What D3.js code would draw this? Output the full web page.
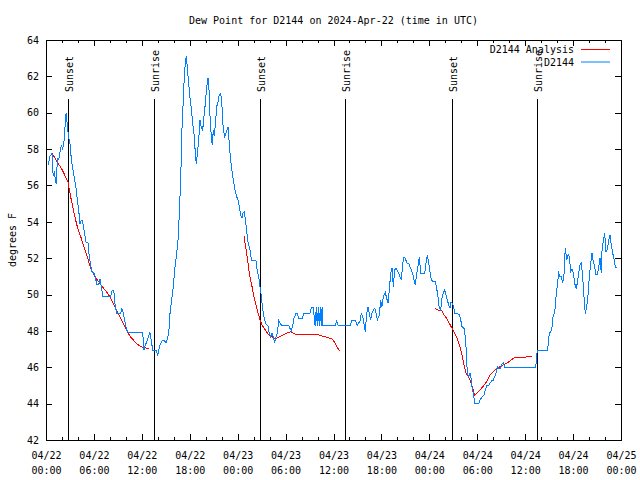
<!DOCTYPE html>
<html><head><meta charset="utf-8">
<script src="https://cdn.jsdelivr.net/npm/d3@7"></script>
<style>
body{margin:0;background:#fff}
svg text{font-family:"DejaVu Sans Mono","Liberation Mono",monospace;font-size:10px;fill:#000}
</style>
</head><body>
<svg id="chart" width="640" height="480"></svg>
<script>
// ---- data ----
const titleText = "Dew Point for D2144 on 2024-Apr-22 (time in UTC)";
const yLabel = "degrees F";
const seriesNames = ["D2144 Analysis", "D2144"];
const seriesColors = ["#ff0000", "#0080ff"];
const startTime = "2024-04-22T00:00:00Z";
const endTime = "2024-04-25T00:00:00Z";
const yTicks = [42,44,46,48,50,52,54,56,58,60,62,64];
// sunrise / sunset (hours after start)
const sunLabels = ["Sunset","Sunrise","Sunset","Sunrise","Sunset","Sunrise"];
const sunHours = [2.79, 13.56, 26.83, 37.48, 50.88, 61.52];

// observations: [hours after start, dew point F]
const obs = [[0.25,57.1],[0.5,57.6],[0.75,57.75],[0.9,56.5],[1.05,56.8],[1.2,56.2],[1.3,56.1],[1.42,57.5],[1.6,57.4],[1.7,57.7],[1.92,58.2],[2.1,58.0],[2.3,58.6],[2.45,59.7],[2.52,60.0],[2.6,59.6],[2.7,59.3],[2.8,58.7],[3.0,58.3],[3.09,57.8],[3.26,57.2],[3.42,56.76],[3.59,56.3],[3.76,55.85],[3.92,55.2],[4.09,54.65],[4.26,53.9],[4.42,54.1],[4.55,54.1],[4.62,53.9],[4.84,53.37],[5.0,52.9],[5.26,52.85],[5.42,52.08],[5.59,51.6],[5.76,51.26],[6.0,51.17],[6.17,51.0],[6.34,50.58],[6.6,50.58],[6.76,50.86],[6.93,50.43],[7.1,49.92],[8.1,49.92],[8.26,50.2],[8.5,50.2],[8.6,49.6],[8.85,48.97],[9.35,48.97],[9.5,49.2],[9.68,48.97],[9.85,48.6],[10.1,48.05],[10.27,47.92],[12.1,47.92],[12.18,47.5],[12.27,46.95],[12.43,47.2],[12.77,47.6],[13.0,47.92],[13.18,47.5],[13.35,46.95],[13.77,46.95],[14.0,46.67],[14.2,47.13],[14.35,47.3],[14.6,47.5],[14.78,47.5],[15.03,47.33],[15.25,47.6],[15.4,48.1],[15.53,48.97],[15.74,49.7],[15.94,50.43],[16.15,51.5],[16.37,52.27],[16.57,53.18],[16.69,54.47],[16.87,56.3],[16.99,58.78],[17.19,60.7],[17.32,61.98],[17.44,62.7],[17.57,63.1],[17.69,62.5],[17.87,61.6],[18.03,60.8],[18.19,60.25],[18.37,59.4],[18.53,58.87],[18.7,57.77],[18.82,57.2],[18.95,57.7],[19.12,58.5],[19.28,59.6],[19.45,59.15],[19.62,59.05],[19.78,59.8],[19.95,60.5],[20.12,61.4],[20.29,61.9],[20.41,61.25],[20.54,59.8],[20.7,58.7],[20.82,58.2],[20.95,59.05],[21.07,58.7],[21.25,59.6],[21.37,60.33],[21.54,60.6],[21.7,60.98],[21.88,61.07],[22.04,60.33],[22.2,59.05],[22.38,58.7],[22.54,58.87],[22.66,59.05],[22.79,59.2],[22.88,58.7],[23.04,57.77],[23.17,57.2],[23.33,56.67],[23.5,56.2],[23.67,55.75],[23.88,55.38],[24.04,55.2],[24.21,54.83],[24.38,54.38],[24.54,54.2],[24.67,54.47],[24.83,54.56],[24.92,54.28],[25.1,53.6],[25.29,52.9],[25.54,52.45],[25.75,51.85],[26.3,51.85],[26.46,51.26],[26.64,50.98],[26.8,50.43],[26.92,50.07],[27.05,49.52],[27.21,48.97],[27.39,48.6],[27.55,48.38],[27.8,48.27],[27.96,47.87],[28.14,47.68],[28.3,47.9],[28.46,47.68],[28.64,47.35],[28.8,47.68],[28.96,47.87],[29.14,48.56],[29.3,48.42],[29.55,48.29],[30.39,48.29],[30.55,48.14],[30.72,48.01],[30.89,48.27],[31.05,48.69],[31.31,48.97],[31.47,48.97],[31.64,48.69],[32.06,48.69],[32.31,48.97],[33.06,48.97],[33.22,49.3],[33.47,49.3],[33.7,48.27],[33.85,49.3],[33.97,48.27],[34.1,49.3],[34.22,48.27],[34.35,49.3],[34.47,48.27],[34.57,49.3],[34.65,48.3],[36.23,48.3],[36.4,48.56],[36.6,48.3],[38.07,48.3],[38.32,48.6],[38.73,48.6],[38.98,48.3],[39.32,48.56],[39.48,48.97],[39.66,48.8],[39.82,48.4],[39.98,47.96],[40.16,48.97],[40.32,49.3],[40.48,48.97],[40.66,48.6],[40.82,48.97],[40.98,49.15],[41.16,49.25],[41.32,48.97],[41.49,48.6],[41.74,48.88],[41.91,49.7],[42.07,49.33],[42.24,49.88],[42.49,50.1],[42.82,49.52],[42.99,50.25],[43.16,51.17],[43.33,51.44],[43.49,50.43],[43.66,51.35],[43.83,51.44],[44.16,51.17],[44.33,50.98],[44.49,50.8],[44.67,51.72],[44.83,52.05],[44.99,52.0],[45.17,51.75],[45.42,51.7],[45.58,51.53],[45.74,51.35],[45.92,51.17],[46.08,50.8],[46.24,50.53],[46.42,51.17],[46.58,51.57],[46.75,52.08],[46.92,51.17],[47.42,51.17],[47.58,51.72],[47.75,52.18],[47.92,51.72],[48.08,51.26],[48.25,50.8],[48.5,50.7],[48.75,50.7],[48.92,50.34],[49.09,49.88],[49.25,49.24],[49.42,49.15],[49.59,49.8],[49.75,50.07],[49.92,50.25],[50.09,49.98],[50.25,49.7],[50.43,49.43],[50.59,49.24],[50.71,49.6],[50.88,49.52],[51.05,49.33],[51.18,48.97],[51.43,48.97],[51.75,48.9],[51.93,48.6],[52.09,48.23],[52.34,48.14],[52.5,47.68],[52.59,47.13],[52.68,46.4],[52.75,45.67],[52.93,45.5],[53.09,45.67],[53.26,45.3],[53.34,44.93],[53.51,44.57],[53.68,44.0],[54.18,44.0],[54.35,44.2],[54.6,44.38],[54.85,44.47],[55.01,44.75],[55.18,44.99],[55.43,44.99],[55.6,45.12],[55.85,45.3],[56.01,45.3],[56.19,45.48],[56.35,45.67],[56.51,46.03],[56.68,45.95],[56.93,45.95],[57.1,46.18],[57.26,46.25],[57.44,46.0],[61.27,46.0],[61.36,46.2],[61.52,46.95],[62.77,46.95],[62.86,47.17],[63.02,47.87],[63.2,47.96],[63.36,48.2],[63.52,48.88],[63.7,48.97],[63.86,49.88],[64.03,50.53],[64.2,51.17],[64.36,51.0],[64.53,51.0],[64.7,50.62],[64.86,51.08],[64.95,52.08],[65.03,52.55],[65.2,51.9],[65.37,52.2],[65.53,52.1],[65.7,51.26],[65.87,51.4],[66.03,51.17],[66.2,50.62],[66.37,50.34],[66.53,50.62],[66.7,51.17],[66.87,51.63],[67.03,51.72],[67.2,50.98],[67.37,49.88],[67.53,48.91],[67.7,49.33],[67.87,49.98],[68.03,50.98],[68.21,51.72],[68.37,52.27],[68.53,51.81],[68.71,51.53],[68.87,51.08],[69.03,51.08],[69.21,51.53],[69.37,51.99],[69.54,51.17],[69.62,52.36],[69.79,53.0],[69.96,53.37],[70.12,52.36],[70.29,52.5],[70.46,53.0],[70.62,53.28],[70.79,52.72],[70.96,52.27],[71.12,51.99],[71.29,51.53],[71.54,51.44]];

// analysis segments: [hours after start, dew point F]
const analysis1 = [[0.75,57.77],[1.41,57.3],[2.04,56.85],[2.75,56.2],[3.09,55.38],[3.51,54.47],[3.92,53.73],[4.35,53.18],[4.76,52.63],[5.17,52.08],[5.6,51.44],[6.01,51.08],[6.42,50.8],[7.05,50.43],[7.68,50.1],[8.1,49.79],[8.51,49.43],[8.93,49.06],[9.35,48.69],[9.77,48.33],[10.18,47.96],[10.61,47.65],[11.02,47.46],[11.43,47.28],[11.86,47.13],[12.27,47.08],[12.86,47.04]];
const analysis2 = [[24.79,53.22],[25.13,52.27],[25.46,51.17],[25.8,50.43],[26.13,49.7],[26.46,49.15],[26.8,48.6],[27.05,48.33],[27.46,48.05],[27.89,47.78],[28.3,47.68],[28.71,47.56],[29.14,47.65],[29.55,47.74],[29.97,47.83],[30.39,47.92],[30.64,47.96],[30.97,47.87],[31.39,47.78],[31.81,47.78],[32.43,47.83],[33.27,47.83],[33.9,47.83],[34.31,47.74],[34.94,47.68],[35.56,47.59],[35.9,47.54],[36.19,47.32],[36.48,47.1],[36.73,46.91]];
const analysis3 = [[48.71,49.24],[49.12,49.15],[49.55,49.11],[49.84,48.88],[50.17,48.69],[50.5,48.42],[50.84,48.14],[51.18,47.87],[51.5,47.59],[51.84,47.13],[52.09,46.68],[52.34,46.13],[52.59,45.67],[52.93,45.45],[53.18,45.21],[53.43,44.84],[53.68,44.48],[54.01,44.6],[54.35,44.75],[54.76,44.97],[55.18,45.21],[55.6,45.58],[56.01,45.76],[56.44,45.94],[56.85,46.03],[57.26,46.13],[57.69,46.22],[58.1,46.35],[58.52,46.49],[58.77,46.53],[59.35,46.53],[59.77,46.53],[60.19,46.58],[60.82,46.62]];

// ---- chart ----
const m = {left: 46, right: 621, top: 40, bottom: 440};
const svg = d3.select("#chart");
const t0 = new Date(startTime), t1 = new Date(endTime);
const toDate = h => new Date(t0.getTime() + h * 3600e3);

const x = d3.scaleUtc().domain([t0, t1]).range([m.left, m.right]);
const y = d3.scaleLinear().domain([42, 64]).range([m.bottom, m.top]);

// frame
svg.append("rect").attr("x", m.left).attr("y", m.top)
  .attr("width", m.right - m.left).attr("height", m.bottom - m.top)
  .attr("fill", "none").attr("stroke", "#000").attr("shape-rendering", "crispEdges");

// x axis minor ticks (bottom & top)
const minorB = d3.axisBottom(x).ticks(d3.utcHour.every(2)).tickSize(-3).tickFormat("");
const minorT = d3.axisTop(x).ticks(d3.utcHour.every(2)).tickSize(-3).tickFormat("");
svg.append("g").attr("transform", `translate(0,${m.bottom})`).call(minorB).call(g => g.select(".domain").remove());
svg.append("g").attr("transform", `translate(0,${m.top})`).call(minorT).call(g => g.select(".domain").remove());

// x axis major ticks
const fmtD = d3.utcFormat("%m/%d"), fmtT = d3.utcFormat("%H:%M");
const majB = d3.axisBottom(x).ticks(d3.utcHour.every(6)).tickSize(-6).tickFormat(fmtD);
const gxb = svg.append("g").attr("transform", `translate(0,${m.bottom})`).call(majB);
gxb.select(".domain").remove();
gxb.selectAll(".tick text").each(function(d) {
  const t = d3.select(this);
  t.text(null).attr("y", null).attr("dy", null);
  t.append("tspan").attr("x", 0).attr("y", 19).text(fmtD(d));
  t.append("tspan").attr("x", 0).attr("y", 34).text(fmtT(d));
});
const majT = d3.axisTop(x).ticks(d3.utcHour.every(6)).tickSize(-6).tickFormat("");
svg.append("g").attr("transform", `translate(0,${m.top})`).call(majT).call(g => g.select(".domain").remove());

// y axes
const yl = d3.axisLeft(y).tickValues(yTicks).tickSize(-6).tickPadding(7).tickFormat(d3.format("d"));
const gyl = svg.append("g").attr("transform", `translate(${m.left},0)`).call(yl);
gyl.select(".domain").remove();
const yr = d3.axisRight(y).tickValues(yTicks).tickSize(-6).tickFormat("");
svg.append("g").attr("transform", `translate(${m.right},0)`).call(yr).call(g => g.select(".domain").remove());

svg.selectAll(".tick line").attr("stroke", "#000").attr("shape-rendering", "crispEdges");
svg.selectAll(".tick text").attr("fill", "#000");
svg.selectAll("g").attr("font-family", null).attr("font-size", null);

// sunrise / sunset lines
const sun = svg.append("g");
sunHours.forEach((h, i) => {
  const sx = Math.round(x(toDate(h))) + 0.5;
  sun.append("line").attr("x1", sx).attr("x2", sx).attr("y1", 99).attr("y2", m.bottom)
    .attr("stroke", "#000").attr("stroke-width", 1);
  sun.append("text").attr("transform", `translate(${sx + 4},92) rotate(-90)`)
    .attr("text-anchor", "start").text(sunLabels[i]);
});

// lines
const line = d3.line().x(d => x(toDate(d[0]))).y(d => y(d[1]));
[analysis1, analysis2, analysis3].forEach(seg => {
  svg.append("path").datum(seg).attr("d", line).attr("fill", "none")
    .attr("stroke", seriesColors[0]).attr("stroke-width", 1).attr("shape-rendering", "crispEdges");
});
svg.append("path").datum(obs).attr("d", line).attr("fill", "none")
  .attr("stroke", seriesColors[1]).attr("stroke-width", 1).attr("shape-rendering", "crispEdges");

// title & labels
svg.append("text").attr("x", (m.left + m.right) / 2).attr("y", 24)
  .attr("text-anchor", "middle").text(titleText);
svg.append("text").attr("transform", `translate(16,${(m.top + m.bottom) / 2}) rotate(-90)`)
  .attr("text-anchor", "middle").text(yLabel);

// legend
const leg = svg.append("g");
seriesNames.forEach((n, i) => {
  const ly = 49.5 + i * 12.5;
  leg.append("text").attr("x", 574).attr("y", ly + 3.5).attr("text-anchor", "end").text(n);
  leg.append("line").attr("x1", 581).attr("x2", 610).attr("y1", ly).attr("y2", ly)
    .attr("stroke", seriesColors[i]).attr("stroke-width", 1);
});
</script>
</body></html>
